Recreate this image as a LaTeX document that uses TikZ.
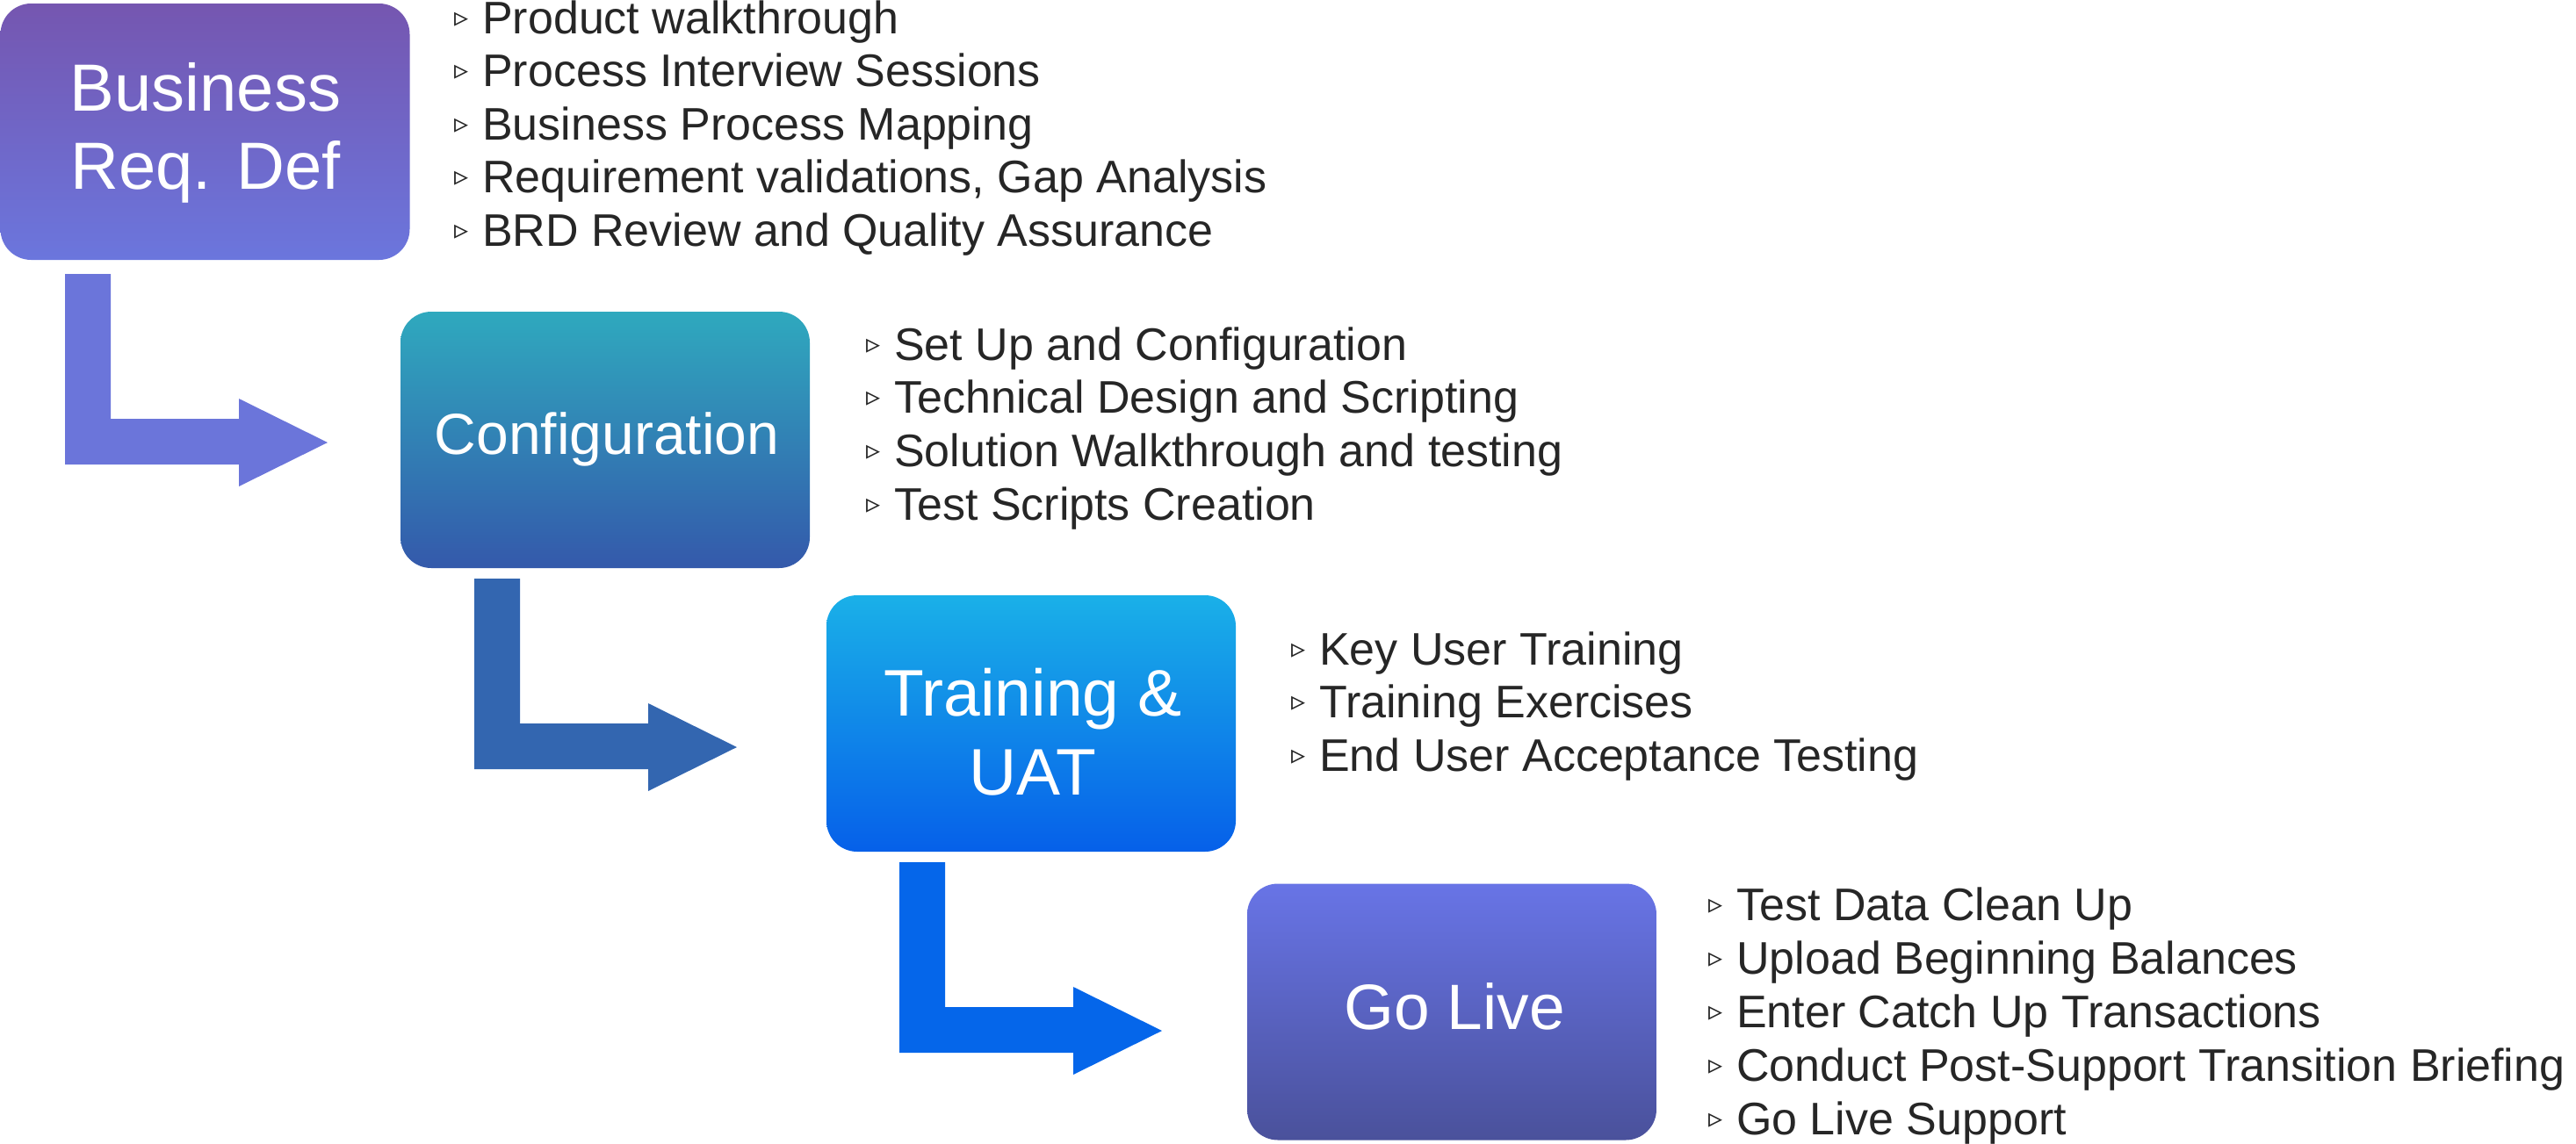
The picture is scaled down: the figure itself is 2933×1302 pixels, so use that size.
\documentclass[tikz,border=0pt]{standalone}
\usepackage{fontspec}
\setmainfont{Liberation Sans}
\newfontfamily\bulfont{DejaVu Sans}
\definecolor{txtc}{HTML}{262626}
\definecolor{bAtop}{HTML}{7556B0}
\definecolor{bAbot}{HTML}{6B76DD}
\definecolor{bBtop}{HTML}{2FA9BE}
\definecolor{bBmid}{HTML}{2E82C3}
\definecolor{bBbot}{HTML}{3459AB}
\definecolor{bCtop}{HTML}{1AB0E8}
\definecolor{bCbot}{HTML}{0660E9}
\definecolor{bDtop}{HTML}{6874E6}
\definecolor{bDbot}{HTML}{4A519B}
\definecolor{arA}{HTML}{6B75DA}
\definecolor{arB}{HTML}{3366B0}
\definecolor{arC}{HTML}{0566EA}
\newcommand\bul{\makebox[32pt][l]{\raisebox{8pt}{\bulfont\fontsize{32}{32}\selectfont ▹}}}
\newcommand\bentarr[3]{\fill[#3,shift={(#1,#2)}] (0,0) -- (52,0) -- (52,165) -- (198,165) -- (198,142) -- (299,192) -- (198,242) -- (198,217) -- (0,217) -- cycle;}
\begin{document}
\begin{tikzpicture}[x=1pt,y=-1pt,
  stage/.style={rounded corners=35pt, minimum width=466pt, minimum height=292pt, inner sep=0pt, draw=none},
  lbl/.style={text=white, anchor=base, inner sep=0pt},
  itm/.style={anchor=base west, inner sep=0pt, text=txtc, font=\fontsize{52}{60}\selectfont}]
\useasboundingbox (0,0) rectangle (2933,1302);
% stage boxes
\node[stage, top color=bAtop, bottom color=bAbot] (s1) at (233.5,150) {};
\node[stage, top color=bBtop, middle color=bBmid, bottom color=bBbot] (s2) at (689,501) {};
\node[stage, top color=bCtop, bottom color=bCbot] (s3) at (1174,824) {};
\node[stage, top color=bDtop, bottom color=bDbot] (s4) at (1653,1152.5) {};
% labels
\node[lbl, font=\fontsize{76}{89}\selectfont] (l1a) at (234,126) {Business};
\node[lbl, font=\fontsize{76}{89}\selectfont] (l1b) at (234,215) {Req. Def};
\node[lbl, font=\fontsize{66}{78}\selectfont] (l2) at (691,517) {Configuration};
\node[lbl, font=\fontsize{75}{90}\selectfont] (l3a) at (1176,815) {Training \&};
\node[lbl, font=\fontsize{75}{90}\selectfont] (l3b) at (1176,905) {UAT};
\node[lbl, font=\fontsize{73}{90}\selectfont] (l4) at (1656,1172) {Go Live};
% arrows
\bentarr{74}{312}{arA}
\bentarr{540}{659}{arB}
\bentarr{1024}{982}{arC}
% lists
\node[itm] (a1) at (517,38) {\bul Product walkthrough};
\node[itm] (a2) at (517,98.5) {\bul Process Interview Sessions};
\node[itm] (a3) at (517,159) {\bul Business Process Mapping};
\node[itm] (a4) at (517,219.5) {\bul Requirement validations, Gap Analysis};
\node[itm] (a5) at (517,280) {\bul BRD Review and Quality Assurance};
\node[itm] (b1) at (986,410) {\bul Set Up and Configuration};
\node[itm] (b2) at (986,470.5) {\bul Technical Design and Scripting};
\node[itm] (b3) at (986,531) {\bul Solution Walkthrough and testing};
\node[itm] (b4) at (986,592) {\bul Test Scripts Creation};
\node[itm] (c1) at (1470,757) {\bul Key User Training};
\node[itm] (c2) at (1470,817.5) {\bul Training Exercises};
\node[itm] (c3) at (1470,878) {\bul End User Acceptance Testing};
\node[itm] (d1) at (1945,1048) {\bul Test Data Clean Up};
\node[itm] (d2) at (1945,1109) {\bul Upload Beginning Balances};
\node[itm] (d3) at (1945,1170) {\bul Enter Catch Up Transactions};
\node[itm] (d4) at (1945,1231) {\bul Conduct Post-Support Transition Briefing};
\node[itm] (d5) at (1945,1292) {\bul Go Live Support};
\end{tikzpicture}
\end{document}
